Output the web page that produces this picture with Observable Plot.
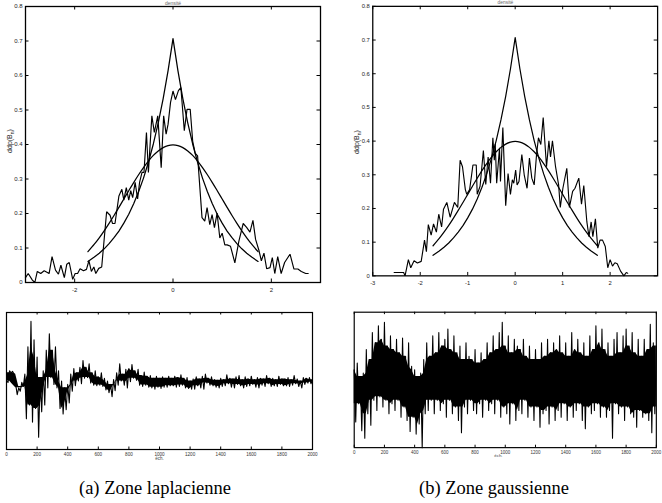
<!DOCTYPE html>
<html><head><meta charset="utf-8">
<script src="https://cdn.jsdelivr.net/npm/d3@7"></script>
<script src="https://cdn.jsdelivr.net/npm/@observablehq/plot@0.6"></script>
<style>
html,body{margin:0;padding:0;background:#fff;overflow:hidden;}
#wrap{position:relative;width:662px;height:503px;overflow:hidden;background:#fff;}
.p{position:absolute;}
.cap{position:absolute;font-family:"Liberation Serif","Times New Roman",serif;font-size:18.5px;line-height:18px;color:#000;white-space:nowrap;transform:translateX(-50%);}
.ylab{position:absolute;font-family:"Liberation Sans",Arial,sans-serif;font-size:7px;line-height:7px;color:#222;white-space:nowrap;transform:translate(-50%,-50%) rotate(-90deg);}
.ylab sub{font-size:5px;vertical-align:-1.5px;}
</style></head><body><div id="wrap"></div>
<script>
// ---------- data ----------
const topXTicksA = [-2, 0, 2];
const topXTicksB = [-3, -2, -1, 0, 1, 2];
const topYTicks = [0, 0.1, 0.2, 0.3, 0.4, 0.5, 0.6, 0.7, 0.8];
const botXTicks = [0, 200, 400, 600, 800, 1000, 1200, 1400, 1600, 1800, 2000];

// empirical density, laplacian zone
const lapHistX = [-3.0,-2.945,-2.86,-2.81,-2.76,-2.69,-2.62,-2.52,-2.46,-2.39,-2.33,-2.28,-2.21,-2.16,-2.11,-2.04,-1.99,-1.94,-1.89,-1.82,-1.76,-1.71,-1.66,-1.61,-1.57,-1.51,-1.45,-1.35,-1.28,-1.23,-1.18,-1.10,-1.04,-1.0,-0.95,-0.90,-0.86,-0.82,-0.77,-0.72,-0.68,-0.63,-0.59,-0.54,-0.50,-0.43,-0.38,-0.31,-0.24,-0.19,-0.14,-0.10,-0.05,0.0,0.05,0.11,0.16,0.23,0.285,0.35,0.40,0.45,0.50,0.59,0.646,0.693,0.748,0.795,0.843,0.897,0.952,1.0,1.054,1.10,1.17,1.258,1.34,1.428,1.497,1.565,1.626,1.68,1.75,1.797,1.85,1.905,1.973,2.02,2.07,2.13,2.20,2.27,2.38,2.46,2.54,2.61,2.70,2.75];
const lapHistY = [0.014,0.026,0.007,0.0,0.032,0.026,0.034,0.026,0.075,0.036,0.024,0.05,0.014,0.053,0.058,0.009,0.026,0.026,0.040,0.034,0.038,0.063,0.032,0.045,0.026,0.041,0.045,0.205,0.195,0.171,0.171,0.251,0.27,0.239,0.275,0.239,0.266,0.246,0.29,0.242,0.29,0.319,0.319,0.435,0.319,0.483,0.435,0.483,0.333,0.483,0.43,0.459,0.522,0.555,0.53,0.556,0.565,0.44,0.502,0.502,0.41,0.375,0.367,0.188,0.178,0.217,0.168,0.197,0.159,0.201,0.129,0.143,0.109,0.109,0.105,0.057,0.12,0.171,0.16,0.146,0.18,0.125,0.092,0.063,0.085,0.04,0.043,0.072,0.026,0.075,0.026,0.058,0.082,0.039,0.039,0.032,0.026,0.026];

// empirical density, gaussian zone
const gauHistX = [-2.55,-2.35,-2.32,-2.25,-2.2,-2.13,-2.06,-1.98,-1.91,-1.87,-1.83,-1.77,-1.72,-1.66,-1.61,-1.55,-1.51,-1.44,-1.37,-1.28,-1.21,-1.16,-1.11,-1.05,-1.02,-0.96,-0.89,-0.82,-0.80,-0.74,-0.67,-0.62,-0.57,-0.52,-0.47,-0.44,-0.42,-0.39,-0.33,-0.31,-0.26,-0.20,-0.15,-0.10,-0.06,-0.03,0.01,0.04,0.08,0.14,0.19,0.25,0.30,0.35,0.40,0.45,0.49,0.54,0.59,0.66,0.71,0.744,0.785,0.85,0.915,0.95,1.005,1.087,1.142,1.21,1.26,1.34,1.397,1.445,1.51,1.555,1.60,1.636,1.69,1.74,1.787,1.84,1.898,1.95,2.0,2.05,2.10,2.15,2.22,2.29,2.34,2.37];
const gauHistY = [0.01,0.01,0.0,0.048,0.024,0.045,0.038,0.043,0.106,0.072,0.152,0.121,0.154,0.13,0.183,0.145,0.198,0.218,0.174,0.218,0.203,0.343,0.324,0.256,0.242,0.256,0.329,0.329,0.242,0.266,0.372,0.271,0.353,0.275,0.41,0.343,0.391,0.275,0.38,0.28,0.44,0.208,0.304,0.242,0.285,0.275,0.314,0.27,0.28,0.36,0.30,0.26,0.35,0.29,0.27,0.36,0.41,0.39,0.47,0.324,0.401,0.353,0.401,0.324,0.27,0.203,0.26,0.319,0.203,0.251,0.26,0.29,0.213,0.268,0.16,0.116,0.16,0.116,0.169,0.082,0.106,0.106,0.087,0.024,0.048,0.029,0.039,0.036,0.014,0.0,0.01,0.008];

// reference densities (unit variance)
const modelX = [-1.73,-1.6,-1.5,-1.4,-1.3,-1.2,-1.1,-1.0,-0.9,-0.8,-0.7,-0.6,-0.5,-0.4,-0.3,-0.2,-0.1,0,0.1,0.2,0.3,0.4,0.5,0.6,0.7,0.8,0.9,1.0,1.1,1.2,1.3,1.4,1.5,1.6,1.73];
const laplaceY = [0.061,0.0736,0.0848,0.0976,0.1125,0.1298,0.149,0.172,0.198,0.228,0.263,0.3026,0.3486,0.4015,0.4627,0.533,0.614,0.707,0.614,0.533,0.4627,0.4015,0.3486,0.3026,0.263,0.228,0.198,0.172,0.149,0.1298,0.1125,0.0976,0.0848,0.0736,0.061];
const gaussY = [0.0894,0.111,0.1295,0.1497,0.1714,0.1942,0.2179,0.242,0.2661,0.2897,0.3123,0.3332,0.3521,0.3683,0.3814,0.391,0.397,0.3989,0.397,0.391,0.3814,0.3683,0.3521,0.3332,0.3123,0.2897,0.2661,0.242,0.2179,0.1942,0.1714,0.1497,0.1295,0.111,0.0894];

// signals: upper / lower excursion per 20 samples (0..2000)
const sigAHi = [0.0,0.15,0.14,-0.05,-0.1,-0.02,0.1,0.5,0.87,0.6,
 0.35,0.05,0.15,0.45,0.69,0.45,0.5,0.15,0.0,-0.1,
 -0.05,0.1,0.18,0.12,0.2,0.3,0.2,0.25,0.12,0.15,
 0.06,0.12,0.04,0.0,-0.05,0.02,0.12,0.25,0.1,0.17,
 0.18,0.24,0.15,0.17,0.08,0.13,0.07,0.08,0.04,0.07,
 0.04,0.06,0.04,0.07,0.04,0.07,0.05,0.09,0.04,0.05,
 0.0,0.03,0.06,0.03,0.07,0.1,0.04,0.06,0.02,0.01,
 0.04,0.02,0.09,0.04,0.03,0.06,0.08,0.02,0.06,0.03,
 0.07,0.02,0.05,0.04,0.03,0.08,0.04,0.04,0.02,0.07,
 0.03,0.03,0.05,0.02,0.08,0.03,0.0,0.05,0.04,0.05,
 0.02];
const sigALo = [-0.02,0.12,0.1,-0.2,-0.15,-0.08,-0.55,-0.35,-0.6,-0.4,
 -0.82,-0.45,-0.35,-0.1,0.05,-0.05,-0.1,-0.4,-0.48,-0.42,
 -0.32,-0.15,-0.07,0.0,-0.04,0.04,0.05,-0.03,-0.06,-0.07,
 -0.06,-0.08,-0.13,-0.17,-0.23,-0.14,-0.06,0.0,-0.06,-0.1,
 -0.01,0.04,0.01,-0.06,-0.08,-0.06,-0.09,-0.1,-0.12,-0.09,
 -0.11,-0.09,-0.09,-0.07,-0.07,-0.09,-0.08,-0.06,-0.1,-0.11,
 -0.12,-0.12,-0.07,-0.1,-0.12,-0.03,-0.06,-0.07,-0.09,-0.1,
 -0.08,-0.07,-0.04,-0.09,-0.1,-0.05,-0.07,-0.1,-0.08,-0.07,
 -0.05,-0.09,-0.1,-0.06,-0.08,-0.04,-0.08,-0.07,-0.08,-0.05,
 -0.07,-0.07,-0.08,-0.06,-0.04,-0.08,-0.1,-0.05,-0.03,-0.04,
 -0.02];
const sigBHi = [0.15,0.25,0.05,0.1,0.45,0.3,0.7,0.55,0.8,0.6,
 0.85,0.5,0.65,0.45,0.6,0.4,0.62,0.35,0.55,0.2,
 0.15,0.05,0.1,0.3,0.55,0.35,0.65,0.4,0.7,0.5,
 0.6,0.75,0.45,0.65,0.4,0.5,0.3,0.55,0.35,0.3,
 0.45,0.25,0.4,0.3,0.55,0.4,0.65,0.45,0.7,0.85,
 0.5,0.65,0.4,0.6,0.5,0.45,0.6,0.35,0.5,0.3,
 0.45,0.3,0.55,0.35,0.6,0.4,0.55,0.45,0.65,0.4,
 0.55,0.35,0.7,0.45,0.6,0.4,0.55,0.35,0.65,0.45,
 0.8,0.55,0.75,0.45,0.55,0.35,0.6,0.7,0.4,0.65,
 0.75,0.5,0.7,0.4,0.6,0.35,0.6,0.45,0.82,0.55,
 0.5];
const sigBLo = [-0.62,-0.35,-0.75,-0.86,-0.5,-0.67,-0.3,-0.45,-0.25,-0.4,
 -0.3,-0.5,-0.35,-0.45,-0.3,-0.55,-0.4,-0.6,-0.76,-0.55,
 -0.8,-0.65,-1.0,-0.5,-0.45,-0.3,-0.5,-0.3,-0.45,-0.35,
 -0.55,-0.3,-0.5,-0.4,-0.6,-0.78,-0.4,-0.5,-0.3,-0.45,
 -0.5,-0.35,-0.55,-0.3,-0.45,-0.35,-0.5,-0.3,-0.55,-0.4,
 -0.5,-0.65,-0.35,-0.6,-0.45,-0.5,-0.3,-0.55,-0.4,-0.6,
 -0.4,-0.7,-0.5,-0.45,-0.65,-0.4,-0.6,-0.45,-0.55,-0.35,
 -0.6,-0.4,-0.55,-0.45,-0.35,-0.6,-0.72,-0.4,-0.5,-0.45,
 -0.35,-0.55,-0.4,-0.55,-0.45,-0.86,-0.35,-0.5,-0.4,-0.6,
 -0.4,-0.5,-0.55,-0.7,-0.45,-0.55,-0.5,-0.6,-0.78,-0.5,
 -0.4];
const sampleStep = 20;

const yLabelHTML = "ddp(B<sub>n</sub>)";
const topTitle = "densité";
const xLabelBottom = "éch.";
const captions = ["(a) Zone laplacienne", "(b) Zone gaussienne"];

// ---------- helpers ----------
const FONT = '"Liberation Sans", Arial, Helvetica, sans-serif';
const pts = (xs, ys) => xs.map((x, i) => ({x, y: ys[i]}));
const zigzag = (hi, lo) => {
  const out = [];
  hi.forEach((h, i) => {
    out.push({x: i * sampleStep, y: h});
    if (i < hi.length - 1) out.push({x: i * sampleStep + sampleStep / 2, y: lo[i]});
  });
  return out;
};
// dense core of the trace: where neighbouring excursions overlap
const core = (hi, lo) => hi.map((h, i) => {
  const a = Math.max(0, i - 1), b = Math.min(hi.length, i + 2);
  const top = d3.min(hi.slice(a, b)), bot = d3.max(lo.slice(a, b));
  return {x: i * sampleStep, hi: Math.max(top, bot), lo: Math.min(top, bot)};
});
const fmt = d => String(d);

function topPlot(o) {
  const innerW = o.width - o.ml - o.mr, innerH = 276;
  const ky = 0.8 / innerH * 3.5, kx = 6 / innerW * 3.5;
  return Plot.plot({
    width: o.width, height: 300,
    marginLeft: o.ml, marginRight: o.mr, marginTop: 6, marginBottom: 18,
    x: {domain: [-3, 3]}, y: {domain: [0, 0.8]},
    style: {fontFamily: FONT, background: "#fff", color: "#000", overflow: "hidden"},
    marks: [
      Plot.axisX(o.xTicks, {anchor: "bottom", tickSize: 0, tickPadding: 5, fontSize: 6, label: null, tickFormat: fmt, fill: "#222"}),
      Plot.axisY(topYTicks, {anchor: "left", tickSize: 0, tickPadding: 3, fontSize: 6, label: null, tickFormat: fmt, fill: "#222"}),
      Plot.ruleX(o.xTicks, {x: d => d, y1: 0, y2: ky, stroke: "#000"}),
      Plot.ruleX(o.xTicks, {x: d => d, y1: 0.8, y2: 0.8 - ky, stroke: "#000"}),
      Plot.ruleY(topYTicks, {y: d => d, x1: -3, x2: -3 + kx, stroke: "#000"}),
      Plot.ruleY(topYTicks, {y: d => d, x1: 3, x2: 3 - kx, stroke: "#000"}),
      Plot.line(pts(modelX, laplaceY), {x: "x", y: "y", stroke: "#000", strokeWidth: 1.25}),
      Plot.line(pts(modelX, gaussY), {x: "x", y: "y", stroke: "#000", strokeWidth: 1.25, curve: "catmull-rom"}),
      Plot.line(pts(o.hx, o.hy), {x: "x", y: "y", stroke: "#000", strokeWidth: 1.15, strokeLinejoin: "miter"}),
      Plot.frame({stroke: "#000", strokeWidth: 1.3}),
      Plot.text([topTitle], {text: d => d, frameAnchor: "top", dx: o.titleDx, dy: -3.5, lineAnchor: "middle", fontSize: 5, fill: "#666"})
    ]
  });
}

function botPlot(o) {
  const innerH = 175 - 12 - o.mb;
  const ky = 2 / innerH * 2.5;
  return Plot.plot({
    width: o.width, height: 175,
    marginLeft: o.ml, marginRight: o.mr, marginTop: 12, marginBottom: o.mb,
    x: {domain: [0, 2000]}, y: {domain: [-1, 1], axis: null},
    style: {fontFamily: FONT, background: "#fff", color: "#000", overflow: "hidden"},
    marks: [
      Plot.axisX(botXTicks, {anchor: "bottom", tickSize: 0, tickPadding: 3, fontSize: 4.6, label: null, tickFormat: fmt, fill: "#333"}),
      Plot.ruleX(botXTicks, {x: d => d, y1: -1, y2: -1 + ky, stroke: "#000"}),
      Plot.ruleX(botXTicks, {x: d => d, y1: 1, y2: 1 - ky, stroke: "#000"}),
      Plot.areaY(core(o.hi, o.lo), {x: "x", y1: "lo", y2: "hi", fill: "#000"}),
      Plot.line(zigzag(o.hi, o.lo), {x: "x", y: "y", stroke: "#000", strokeWidth: 1.1}),
      Plot.frame({stroke: "#000", strokeWidth: 1.2}),
      Plot.text([xLabelBottom], {text: d => d, frameAnchor: "bottom", dx: o.labDx, dy: 10, fontSize: 4.5, fill: "#444"})
    ]
  });
}

// ---------- layout ----------
const wrap = document.getElementById("wrap");
function place(node, left, top) {
  const d = document.createElement("div");
  d.className = "p"; d.style.left = left + "px"; d.style.top = top + "px";
  d.appendChild(node); wrap.appendChild(d);
}
place(topPlot({width: 330, ml: 25, mr: 10, xTicks: topXTicksA, hx: lapHistX, hy: lapHistY, titleDx: 0}), 0, 0);
place(topPlot({width: 340, ml: 43.3, mr: 5, xTicks: topXTicksB, hx: gauHistX, hy: gauHistY, titleDx: -10}), 330, 0);
place(botPlot({width: 330, ml: 6, mr: 18, mb: 26, hi: sigAHi, lo: sigALo, labDx: 0}), 0, 300);
place(botPlot({width: 340, ml: 24.3, mr: 6.3, mb: 24.3, hi: sigBHi, lo: sigBLo, labDx: -7}), 330, 300);

[[11, 141], [358, 142]].forEach(([x, y]) => {
  const l = document.createElement("div");
  l.className = "ylab"; l.innerHTML = yLabelHTML;
  l.style.left = x + "px"; l.style.top = y + "px";
  wrap.appendChild(l);
});

const capPos = [[155, 479], [494, 479]];
captions.forEach((t, i) => {
  const c = document.createElement("div");
  c.className = "cap"; c.textContent = t;
  c.style.left = capPos[i][0] + "px"; c.style.top = capPos[i][1] + "px";
  wrap.appendChild(c);
});
</script></body></html>
